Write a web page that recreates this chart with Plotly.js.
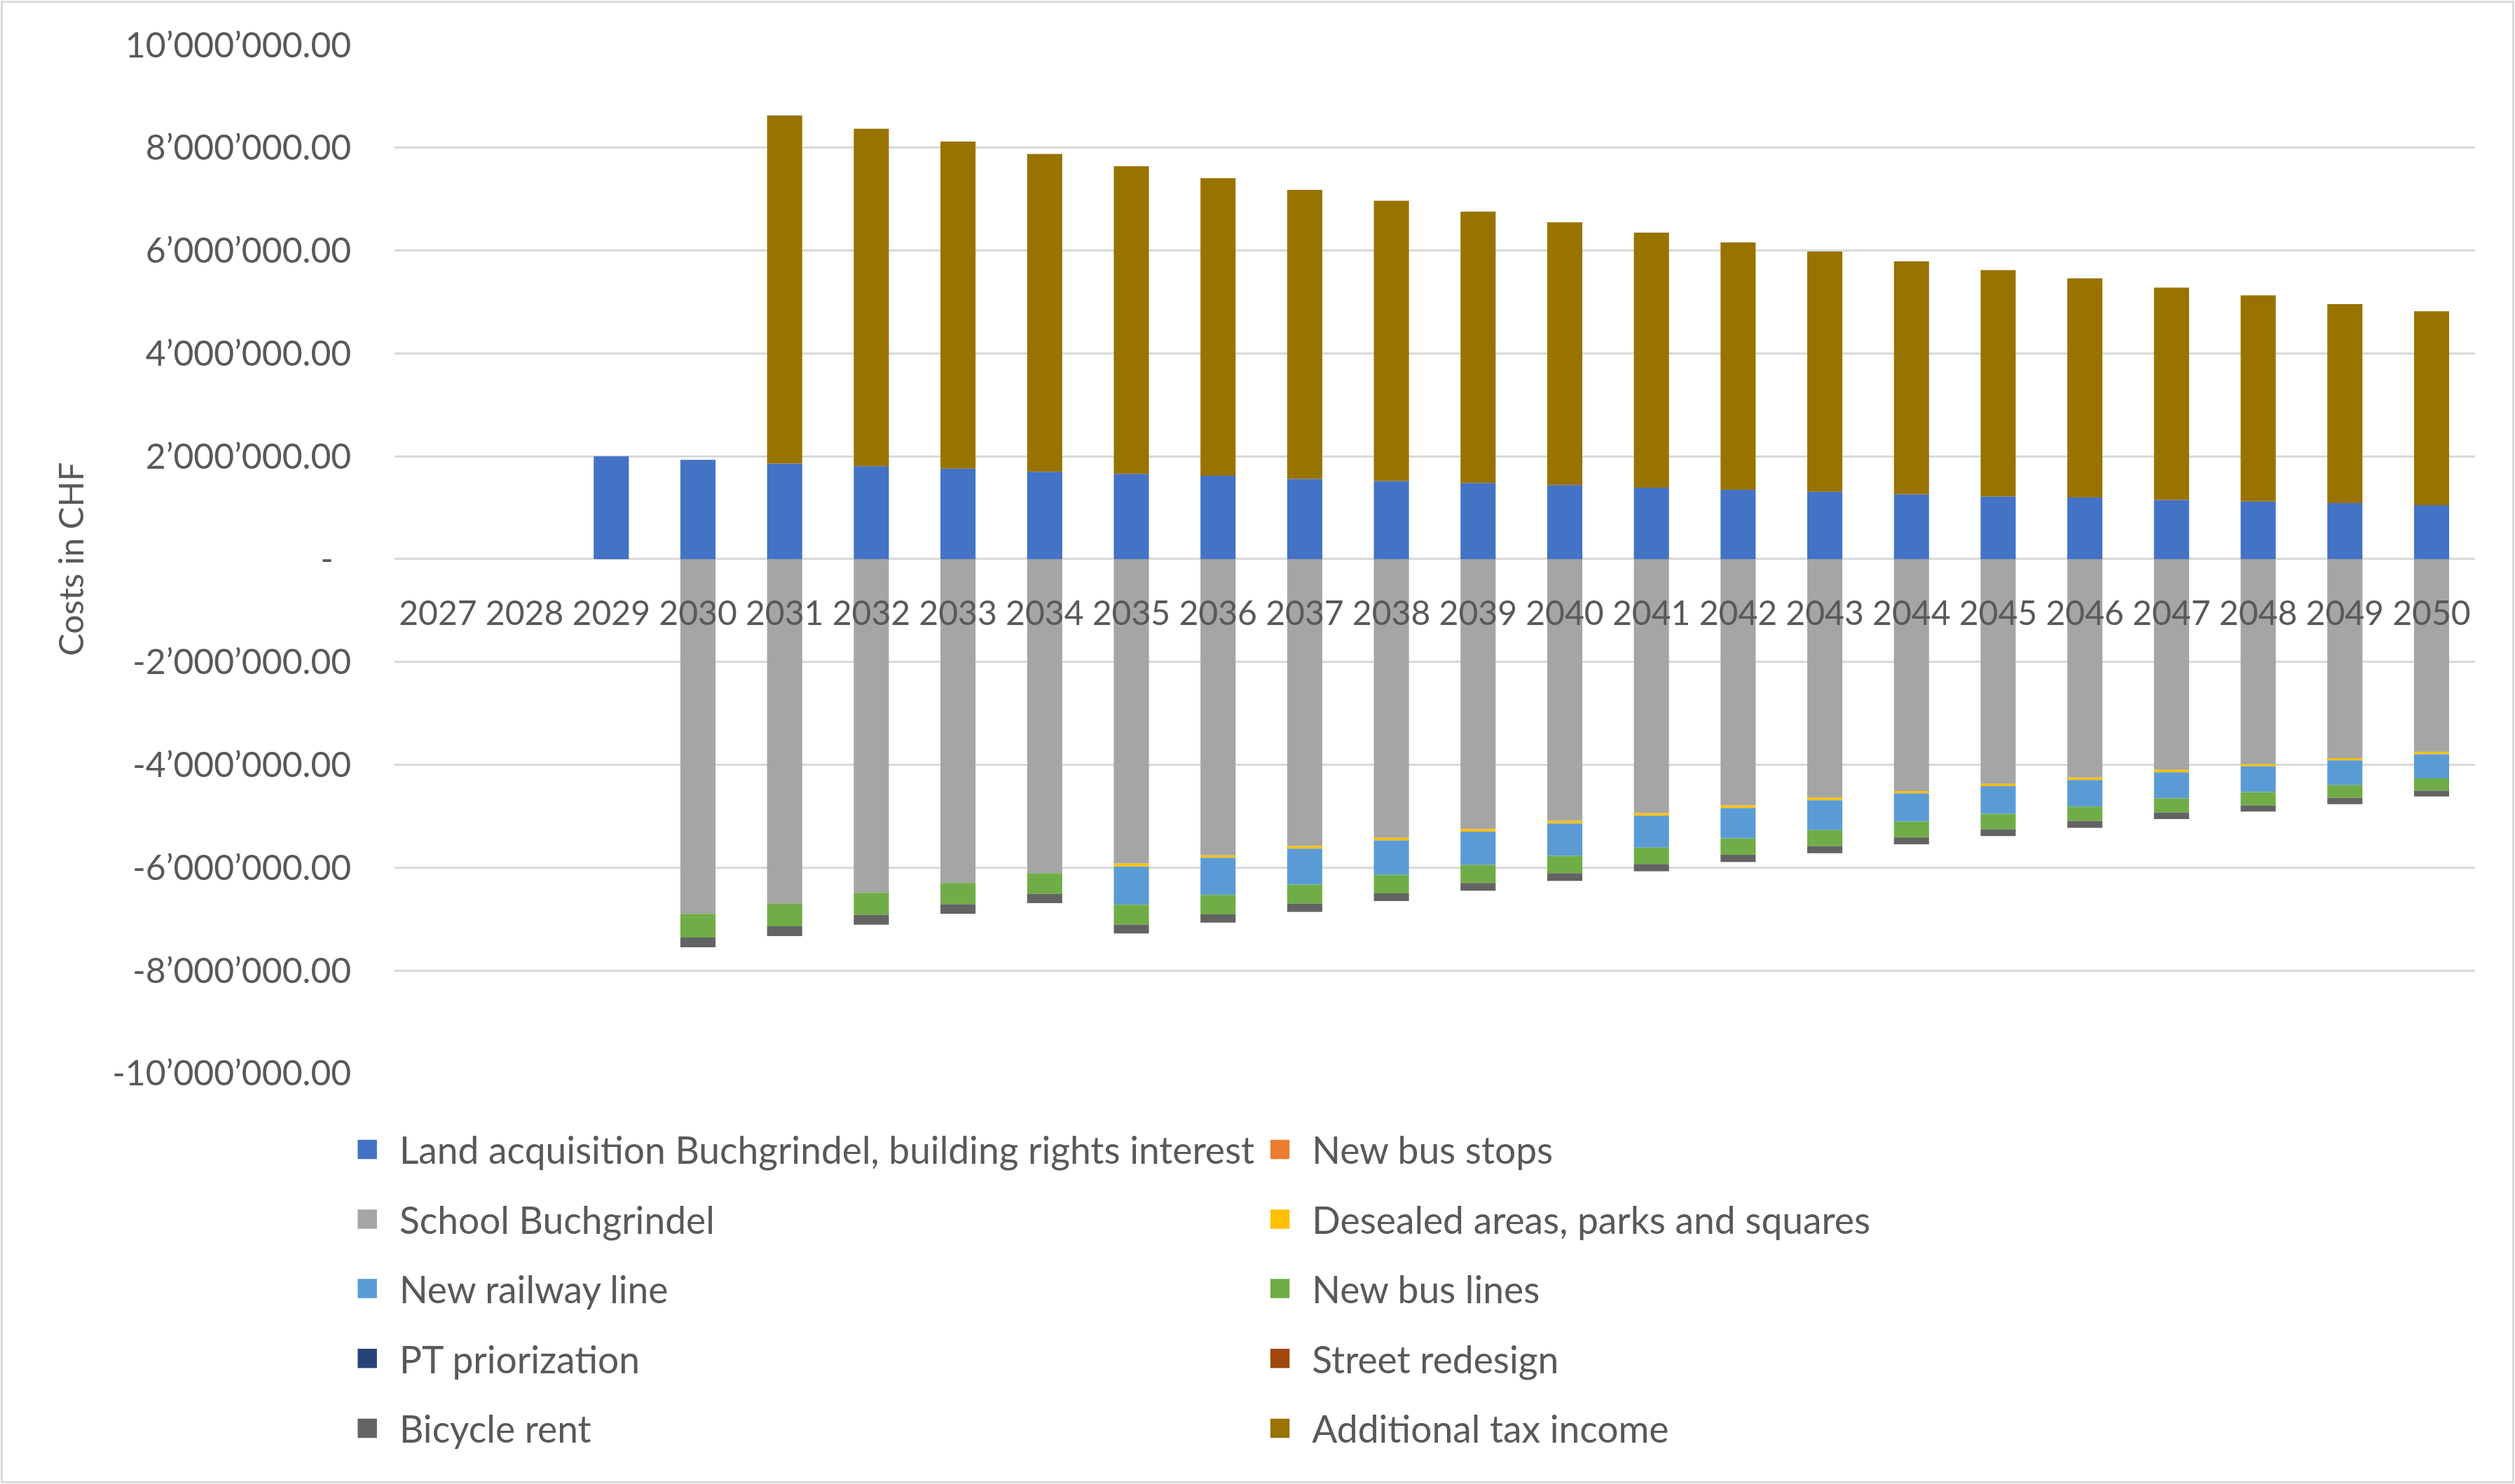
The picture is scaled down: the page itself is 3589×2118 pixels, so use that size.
<!DOCTYPE html>
<html>
<head>
<meta charset="utf-8">
<script src="https://cdn.plot.ly/plotly-3.0.1.min.js"></script>
<style>
html,body{margin:0;padding:0;background:#fff;overflow:hidden;width:3589px;height:2118px;}
#wrap{position:absolute;left:0;top:0;width:1568px;height:925px;transform:scale(2.28891,2.28973);transform-origin:0 0;}
#frame{position:absolute;left:1px;top:1px;width:3581px;height:2110px;border:3px solid #d9d9d9;pointer-events:none;}
</style>
</head>
<body>
<div id="wrap"><div id="chart"></div></div>
<div id="frame"></div>
<script>
var years = ['2027','2028','2029','2030','2031','2032','2033','2034','2035','2036','2037','2038','2039','2040','2041','2042','2043','2044','2045','2046','2047','2048','2049','2050'];

var landAcquisition = [0,0,2000000,1930000,1860000,1810000,1760000,1700000,1660000,1620000,1560000,1520000,1480000,1440000,1390000,1350000,1310000,1260000,1220000,1200000,1150000,1120000,1090000,1050000];
var newBusStops = [0,0,0,0,0,0,0,0,0,0,0,0,0,0,0,0,0,0,0,0,0,0,0,0];
var schoolBuchgrindel = [0,0,0,-6900000,-6700000,-6490000,-6300000,-6110000,-5920000,-5760000,-5580000,-5420000,-5250000,-5090000,-4940000,-4790000,-4640000,-4510000,-4370000,-4250000,-4100000,-3990000,-3870000,-3750000];
var desealedAreas = [0,0,0,0,0,0,0,0,-60000,-50000,-50000,-50000,-50000,-50000,-50000,-50000,-50000,-45000,-45000,-45000,-45000,-40000,-45000,-45000];
var newRailwayLine = [0,0,0,0,0,0,0,0,-740000,-720000,-700000,-670000,-650000,-630000,-620000,-590000,-580000,-550000,-540000,-520000,-510000,-500000,-480000,-470000];
var newBusLines = [0,0,0,-460000,-440000,-430000,-410000,-400000,-390000,-380000,-370000,-360000,-350000,-340000,-320000,-320000,-310000,-310000,-300000,-280000,-270000,-260000,-250000,-240000];
var ptPriorization = [0,0,0,0,0,0,0,0,0,0,0,0,0,0,0,0,0,0,0,0,0,0,0,0];
var streetRedesign = [0,0,0,0,0,0,0,0,0,0,0,0,0,0,0,0,0,0,0,0,0,0,0,0];
var bicycleRent = [0,0,0,-190000,-190000,-190000,-190000,-180000,-170000,-160000,-160000,-150000,-150000,-150000,-140000,-140000,-140000,-130000,-130000,-130000,-130000,-120000,-120000,-110000];
var additionalTaxIncome = [0,0,0,0,6770000,6560000,6360000,6180000,5980000,5790000,5620000,5450000,5280000,5110000,4960000,4810000,4670000,4530000,4400000,4260000,4130000,4010000,3870000,3770000];

var yTickValues = [-10000000,-8000000,-6000000,-4000000,-2000000,0,2000000,4000000,6000000,8000000,10000000];
var yTickLabels = ['-10\u2019000\u2019000.00','-8\u2019000\u2019000.00','-6\u2019000\u2019000.00','-4\u2019000\u2019000.00','-2\u2019000\u2019000.00','-\u00a0\u00a0','2\u2019000\u2019000.00','4\u2019000\u2019000.00','6\u2019000\u2019000.00','8\u2019000\u2019000.00','10\u2019000\u2019000.00'];

var seriesNames = ['Land acquisition Buchgrindel, building rights interest','New bus stops','School Buchgrindel','Desealed areas, parks and squares','New railway line','New bus lines','PT priorization','Street redesign','Bicycle rent','Additional tax income'];
var seriesValues = [landAcquisition,newBusStops,schoolBuchgrindel,desealedAreas,newRailwayLine,newBusLines,ptPriorization,streetRedesign,bicycleRent,additionalTaxIncome];
var seriesColors = ['#4472C4','#ED7D31','#A5A5A5','#FFC000','#5B9BD5','#70AD47','#264478','#9E480E','#636363','#997300'];
var legendIds = ['legend','legend','legend2','legend2','legend3','legend3','legend4','legend4','legend5','legend5'];

var traces = seriesNames.map(function(n,i){
  return {type:'bar', name:n, x:years, y:seriesValues[i], legend:legendIds[i],
    marker:{color:seriesColors[i], line:{width:0}}, hoverinfo:'skip'};
});

var FONT = 'Lato, sans-serif';
var TXT = '#595959';
var plotL = 246, plotR = 1568-25, plotT = 28, plotB = 925-253;
function px2x(p){ return (p-plotL)/(plotR-plotL); }
function py2y(p){ return (plotB-p)/(plotB-plotT); }

var rowY = [720, 763.7, 807.1, 850.9, 894.7];
function mkLegend(r){
  return {orientation:'h', x:px2x(209), xanchor:'left', y:py2y(rowY[r]), yanchor:'middle',
    entrywidth:524, entrywidthmode:'pixels', bgcolor:'rgba(0,0,0,0)',
    font:{family:FONT, size:23.3, color:TXT}, traceorder:'normal'};
}

var layout = {
  width:1568, height:925,
  margin:{l:246, r:25, t:28, b:253, pad:0},
  paper_bgcolor:'#ffffff', plot_bgcolor:'#ffffff',
  barmode:'relative', bargap:0.595,
  font:{family:FONT, size:21, color:TXT},
  showlegend:true,
  legend:mkLegend(0), legend2:mkLegend(1), legend3:mkLegend(2), legend4:mkLegend(3), legend5:mkLegend(4),
  xaxis:{type:'category', anchor:'free', position:0.5, showgrid:false, zeroline:false, showline:false,
    ticks:'', ticklabelstandoff:19, tickangle:0, tickfont:{family:FONT, size:21, color:TXT}},
  yaxis:{range:[-10000000,10000000], tickvals:yTickValues, ticktext:yTickLabels,
    showgrid:true, gridcolor:'#d9d9d9', gridwidth:1.3,
    zeroline:true, zerolinecolor:'#d9d9d9', zerolinewidth:1.3, showline:false, ticks:'',
    ticklabelstandoff:26, tickfont:{family:FONT, size:21.8, color:TXT},
    title:{text:'Costs in CHF', standoff:11, font:{family:FONT, size:21, color:TXT}}}
};

Plotly.newPlot('chart', traces, layout, {staticPlot:true, displayModeBar:false});
</script>
</body>
</html>
